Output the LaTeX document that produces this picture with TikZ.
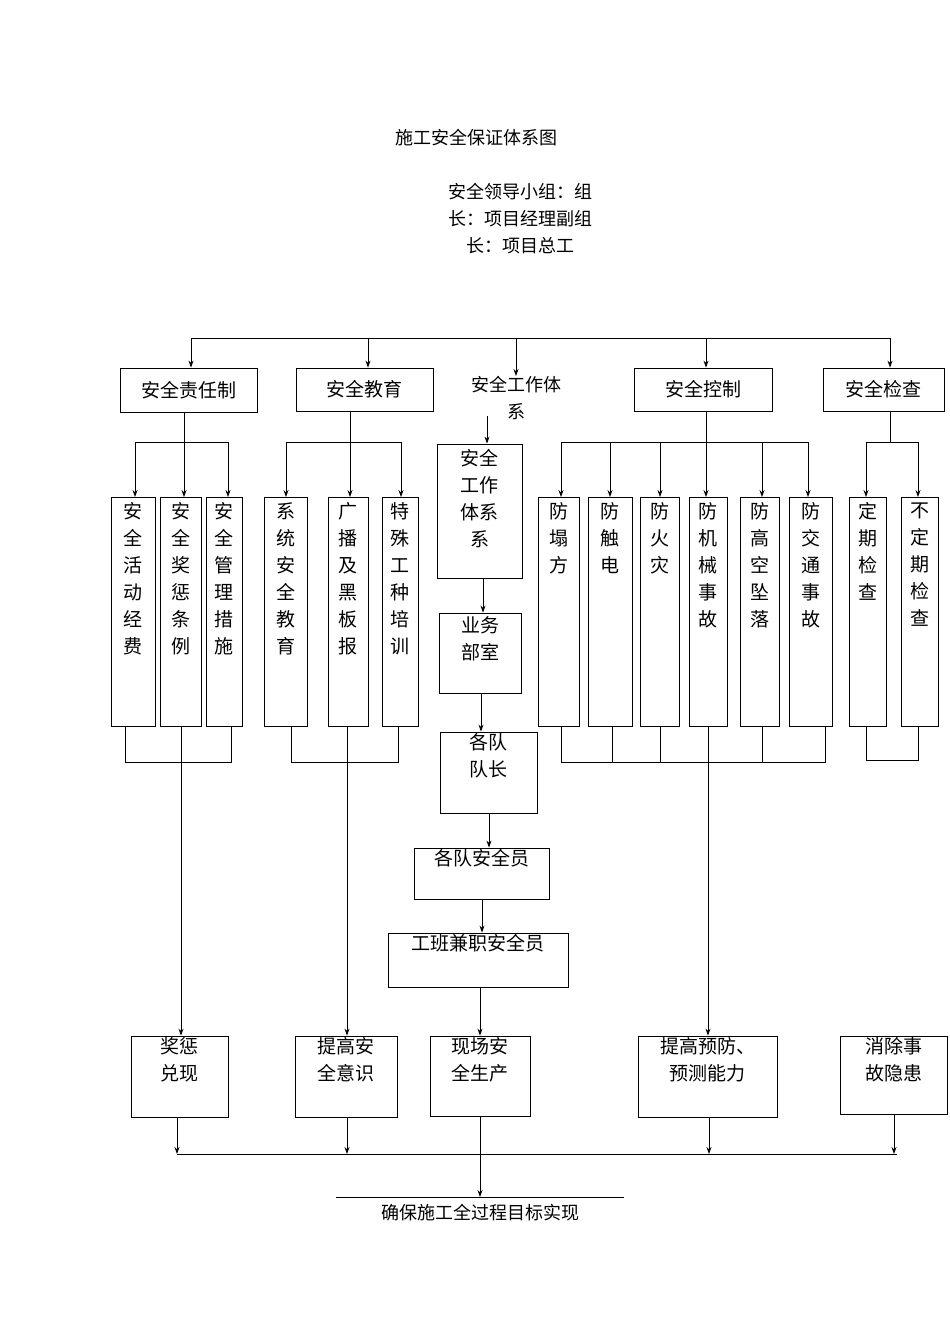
\documentclass[tikz,border=0pt]{standalone}
\usepackage{fontspec}
\setmainfont{Noto Sans CJK SC}
\usetikzlibrary{arrows.meta}
\newcommand\VB[4]{\node[vb,minimum width=#3] (#1) at (#2,611.5) {};\node[vt] at ([yshift=-6pt]#1.north) {#4};}
\begin{document}
\begin{tikzpicture}[x=1pt,y=-1pt,
 bx/.style={draw,line width=0.8pt,inner sep=0pt,align=center,font=\fontsize{19}{27}\selectfont},
 vb/.style={draw,line width=0.8pt,minimum height=229,inner sep=0pt},
 vt/.style={anchor=north,align=center,inner sep=0pt,font=\fontsize{19}{27}\selectfont},
 ar/.style={-{Stealth[length=7pt,width=5pt]},line width=0.8pt},
 ln/.style={line width=0.8pt},
 tx/.style={font=\fontsize{18}{27}\selectfont,align=center}]
\useasboundingbox (0,0) rectangle (950,1344);
\node[tx] (title) at (476,138) {施工安全保证体系图};
\node[tx] (lead) at (520,219) {安全领导小组：组\\长：项目经理副组\\长：项目总工};
% row 1
\node[bx,minimum width=137,minimum height=44] (r1) at (188.5,390) {安全责任制};
\node[bx,minimum width=137,minimum height=43] (r2) at (364.5,389.5) {安全教育};
\node[tx,inner sep=0pt] (r3) at (516,398) {安全工作体\\系};
\node[bx,minimum width=138,minimum height=43] (r4) at (703,389.5) {安全控制};
\node[bx,minimum width=121,minimum height=43] (r5) at (883.5,389.5) {安全检查};
\coordinate (tl) at (191,338); \coordinate (tr) at (890,338);
\draw[ln] (tl) -- (tr);
\foreach \x/\n in {191/r1,368/r2,706/r4,890/r5} \draw[ar] (\x,338) -- (\n.north -| \x,0);
\draw[ar] (516,338) -- (r3.north);
% vertical boxes
\VB{a1}{133}{44}{安\\全\\活\\动\\经\\费}
\VB{a2}{180.5}{41}{安\\全\\奖\\惩\\条\\例}
\VB{a3}{224}{36}{安\\全\\管\\理\\措\\施}
\VB{b1}{285.5}{43}{系\\统\\安\\全\\教\\育}
\VB{b2}{348}{40}{广\\播\\及\\黑\\板\\报}
\VB{b3}{400}{36}{特\\殊\\工\\种\\培\\训}
\VB{c1}{558.5}{41}{防\\塌\\方}
\VB{c2}{610}{44}{防\\触\\电}
\VB{c3}{659.5}{39}{防\\火\\灾}
\VB{c4}{708}{38}{防\\机\\械\\事\\故}
\VB{c5}{759.5}{39}{防\\高\\空\\坠\\落}
\VB{c6}{810.5}{43}{防\\交\\通\\事\\故}
\VB{d1}{867.5}{37}{定\\期\\检\\查}
\VB{d2}{919.5}{37}{不\\定\\期\\检\\查}
% branch lines
\draw[ln] (184,412) -- (184,442) (135,442) -- (228,442);
\foreach \x in {135,184,228} \draw[ar] (\x,442) -- (\x,497);
\draw[ln] (350,411) -- (350,442) (286,442) -- (401,442);
\foreach \x in {286,350,401} \draw[ar] (\x,442) -- (\x,497);
\draw[ln] (561,442) -- (808,442);
\draw[ar] (r4.south -| 706,0) -- (706,497);
\foreach \x in {561,610,660,762,808} \draw[ar] (\x,442) -- (\x,497);
\draw[ln] (890,411) -- (890,442) (866,442) -- (918,442);
\foreach \x in {866,918} \draw[ar] (\x,442) -- (\x,497);
% brackets
\draw[ln] (125,726) -- (125,762) -- (231,762) -- (231,726);
\draw[ln] (291,726) -- (291,762) -- (398,762) -- (398,726);
\draw[ln] (561,726) -- (561,762) -- (825,762) -- (825,726);
\foreach \x in {612,660,762} \draw[ln] (\x,726) -- (\x,762);
\draw[ln] (866,726) -- (866,760) -- (918,760) -- (918,726);
% middle chain
\node[bx,minimum width=85,minimum height=134] (m1) at (479.5,511) {};
\node[vt] at ([yshift=-6pt]m1.north) {安全\\工作\\体系\\系};
\node[bx,minimum width=82,minimum height=80] (m2) at (480,653) {};
\node[vt] at ([yshift=-4pt]m2.north) {业务\\部室};
\node[bx,minimum width=97,minimum height=81] (m3) at (488.5,772.5) {};
\node[vt] at ([yshift=-2pt]m3.north) {各队\\队长};
\node[bx,minimum width=135,minimum height=51] (m4) at (481.5,873.5) {};
\node[vt] at ([yshift=-2pt]m4.north) {各队安全员};
\node[bx,minimum width=180,minimum height=54] (m5) at (478,960) {};
\node[vt] at ([yshift=-2pt]m5.north) {工班兼职安全员};
\draw[ar] (487,416) -- (m1.north -| 487,0);
\draw[ar] (m1.south -| 483,0) -- (m2.north -| 483,0);
\draw[ar] (m2.south -| 481,0) -- (m3.north -| 481,0);
\draw[ar] (m3.south -| 489,0) -- (m4.north -| 489,0);
\draw[ar] (m4.south -| 482,0) -- (m5.north -| 482,0);
% bottom boxes
\node[bx,minimum width=97,minimum height=81] (e1) at (179.5,1076.5) {};
\node[vt] at ([yshift=-2pt]e1.north) {奖惩\\兑现};
\node[bx,minimum width=102,minimum height=81] (e2) at (346,1076.5) {};
\node[vt] at ([yshift=-2pt]e2.north) {提高安\\全意识};
\node[bx,minimum width=100,minimum height=80] (e3) at (480,1076) {};
\node[vt] at ([yshift=-2pt]e3.north) {现场安\\全生产};
\node[bx,minimum width=139,minimum height=81] (e4) at (707.5,1076.5) {};
\node[vt] at ([yshift=-2pt]e4.north) {提高预防、\\预测能力};
\node[bx,minimum width=107,minimum height=78] (e5) at (893.5,1075) {};
\node[vt] at ([yshift=-2pt]e5.north) {消除事\\故隐患};
\draw[ar] (181,726) -- (e1.north -| 181,0);
\draw[ar] (347,726) -- (e2.north -| 347,0);
\draw[ar] (m5.south -| 480,0) -- (e3.north);
\draw[ar] (708,726) -- (e4.north -| 708,0);
% bottom collector
\foreach \x/\n in {177/e1,347/e2,709/e4,894/e5} \draw[ar] (\n.south -| \x,0) -- (\x,1154);
\draw[ln] (177,1154) -- (897,1154);
\coordinate (endp) at (480,1197);
\draw[ar] (e3.south) -- (endp);
\draw[ln] (336,1197) -- (624,1197);
\node[tx] (goal) at (480,1213) {确保施工全过程目标实现};
\end{tikzpicture}
\end{document}
